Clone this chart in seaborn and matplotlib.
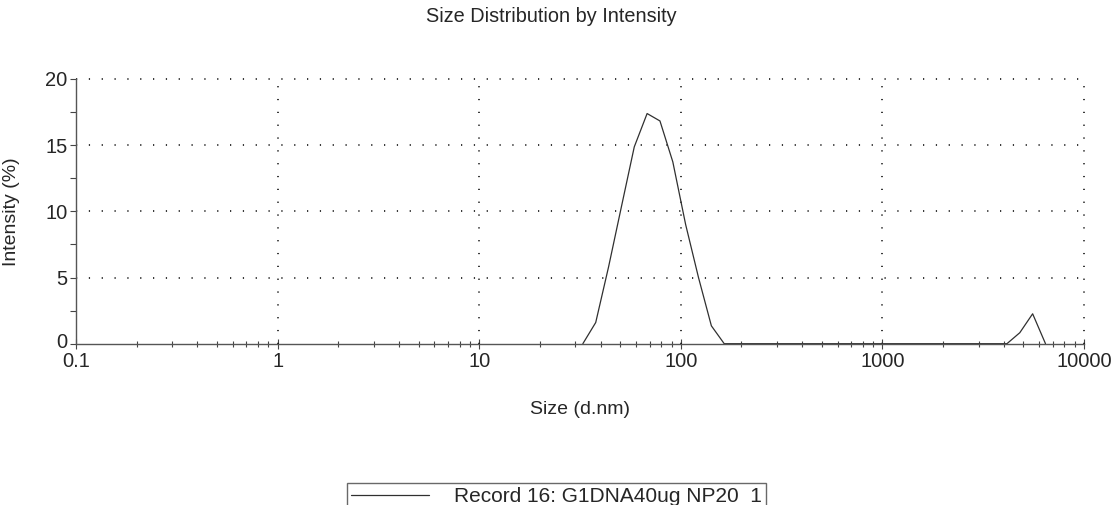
import matplotlib
matplotlib.use("Agg")
import matplotlib.pyplot as plt
import matplotlib.ticker as mticker
import matplotlib.transforms as mtransforms
import seaborn as sns
import pandas as pd

# Size bins (d.nm) and intensity (%) of the measured distribution
sizes = [32.67, 37.84, 43.82, 50.75, 58.77, 68.06, 78.82, 91.28, 105.7,
         122.4, 141.8, 164.2, 3581, 4147, 4803, 5562, 6442]
intensity = [0.0, 1.6, 5.8, 10.35, 14.87, 17.39, 16.83, 13.74, 9.0,
             5.0, 1.35, 0.0, 0.0, 0.0, 0.83, 2.26, 0.0]

x_ticks = [0.1, 1, 10, 100, 1000, 10000]
x_tick_labels = ["0.1", "1", "10", "100", "1000", "10000"]
y_ticks = [0, 5, 10, 15, 20]

title = "Size Distribution by Intensity"
series_label = "Record 16: G1DNA40ug NP20  1"

sns.set_style("white")
plt.rcParams["font.family"] = ["Liberation Sans", "DejaVu Sans"]

df = pd.DataFrame({"Size (d.nm)": sizes, "Intensity (%)": intensity})

W, H = 1116, 505
fig = plt.figure(figsize=(W / 100, H / 100), dpi=100)
ax = fig.add_axes([76 / W, 1 - 343.7 / H, (1084 - 76) / W, (343.7 - 79) / H])

sns.lineplot(data=df, x="Size (d.nm)", y="Intensity (%)", ax=ax,
             color="#303030", linewidth=0.9, label=series_label)

ax.set_xscale("log")
ax.set_xlim(0.1, 10000)
ax.set_ylim(0, 20)

ax.set_xticks(x_ticks)
ax.set_xticklabels(x_tick_labels)
ax.xaxis.set_minor_locator(mticker.LogLocator(base=10, subs=range(2, 10), numticks=20))
ax.xaxis.set_minor_formatter(mticker.NullFormatter())
ax.set_yticks(y_ticks)
ax.yaxis.set_minor_locator(mticker.MultipleLocator(2.5))

ax.tick_params(axis="x", which="major", direction="inout", length=7, width=0.8,
               color="#444444", labelsize=14.5, pad=2.5, bottom=True)
ax.tick_params(axis="x", which="minor", direction="inout", length=5, width=0.8,
               color="#444444", bottom=True)
ax.tick_params(axis="y", which="both", direction="out", length=4, width=0.8,
               color="#444444", labelsize=14.5, pad=2, left=True)

# Lift the "0" label on the y axis slightly so it clears the "0.1" below it
ylabels = ax.get_yticklabels()
ylabels[0].set_transform(ylabels[0].get_transform()
                         + mtransforms.ScaledTranslation(0, 3 / 100, fig.dpi_scale_trans))

for side in ("top", "right"):
    ax.spines[side].set_visible(False)
for side in ("left", "bottom"):
    ax.spines[side].set_color("#555555")
    ax.spines[side].set_linewidth(1.0)

# Dotted grid, including the frame edges at top and right
dots = (0, (0.8, 7.6))
for yv in y_ticks[1:]:
    ax.axhline(yv, color="black", linewidth=1.1, linestyle=dots, clip_on=False, zorder=1)
for xv in x_ticks[1:]:
    ax.axvline(xv, color="black", linewidth=1.1, linestyle=dots, clip_on=False, zorder=1)

ax.set_xlabel("Size (d.nm)", fontsize=14)
ax.set_ylabel("Intensity (%)", fontsize=14)
ax.xaxis.set_label_coords(0.5, -0.215)
ax.yaxis.set_label_coords(-0.056, 0.5)

fig.text(551 / W, 1 - 17 / H, title, ha="center", va="center", fontsize=14.3)

leg = ax.legend(loc="upper left", bbox_to_anchor=(347 / W, 1 - 483 / H),
                bbox_transform=fig.transFigure, frameon=True, fancybox=False,
                fontsize=15, handlelength=3.75, handletextpad=1.2,
                borderpad=0.2, borderaxespad=0)
leg.get_frame().set_edgecolor("#444444")
leg.get_frame().set_linewidth(1.0)

fig.savefig("out.png", dpi=100)
